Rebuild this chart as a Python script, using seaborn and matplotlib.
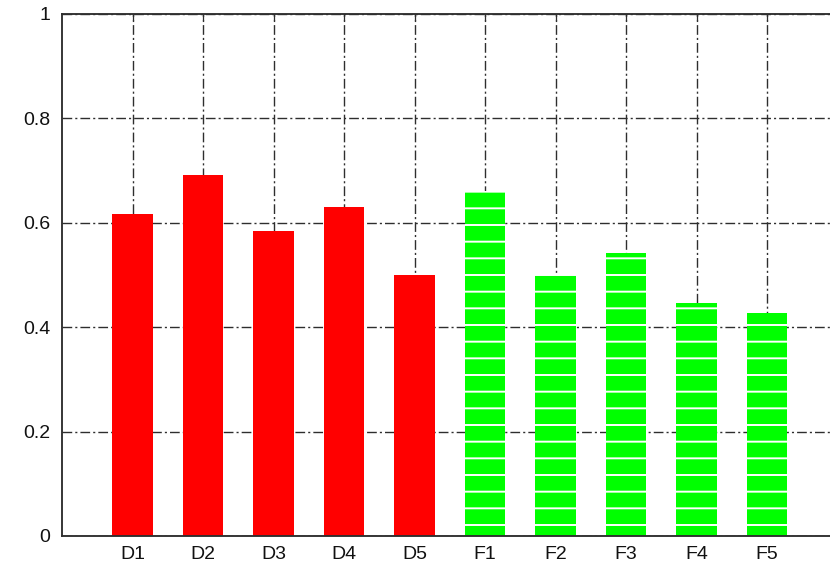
import matplotlib
matplotlib.use("Agg")
import matplotlib.pyplot as plt
import seaborn as sns
import pandas as pd

# Scores per run
labels = ["D1", "D2", "D3", "D4", "D5", "F1", "F2", "F3", "F4", "F5"]
values = [0.616, 0.692, 0.585, 0.631, 0.500, 0.661, 0.500, 0.543, 0.447, 0.428]
groups = ["D", "D", "D", "D", "D", "F", "F", "F", "F", "F"]
group_colors = {"D": "#ff0000", "F": "#00ff00"}
yticks = [0, 0.2, 0.4, 0.6, 0.8, 1.0]
ytick_labels = ["0", "0.2", "0.4", "0.6", "0.8", "1"]

sns.set_theme(style="white")
plt.rcParams["font.family"] = ["Liberation Sans", "DejaVu Sans"]
plt.rcParams["hatch.linewidth"] = 1.4

DPI = 100
W, H = 830, 571
fig = plt.figure(figsize=(W / DPI, H / DPI), dpi=DPI)
ax = fig.add_axes([62 / W, 35 / H, 775.5 / W, 522 / H])

df = pd.DataFrame({"label": labels, "value": values, "group": groups})
sns.barplot(data=df, x="label", y="value", hue="group", order=labels,
            palette=group_colors, width=0.57, dodge=False, saturation=1,
            legend=False, ax=ax)

# Solid red bars; green bars filled with thin white horizontal stripes
for patch in ax.patches:
    idx = int(round(patch.get_x() + patch.get_width() / 2))
    patch.set_linewidth(0)
    if groups[idx] == "F":
        patch.set_edgecolor("white")
        patch.set_hatch("-")

ax.set_xlim(-1, 10)
ax.set_ylim(0, 1)
ax.set_yticks(yticks)
ax.set_yticklabels(ytick_labels)
ax.set_xlabel("")
ax.set_ylabel("")

ax.set_axisbelow(True)
ax.grid(True, color="#2e2e2e", linestyle=(0, (7, 2.2, 1.5, 2.2)), linewidth=1.0)

for side in ["left", "bottom", "top", "right"]:
    ax.spines[side].set_visible(True)
    ax.spines[side].set_color("#2e2e2e")
    ax.spines[side].set_linewidth(1.35)

ax.tick_params(axis="both", direction="in", length=4.5, width=0.9,
               color="#2e2e2e", labelsize=14, labelcolor="#111111",
               top=True, right=True)
ax.tick_params(axis="y", pad=8.5)
ax.tick_params(axis="x", pad=7.5)

fig.savefig("out.png", dpi=DPI)
